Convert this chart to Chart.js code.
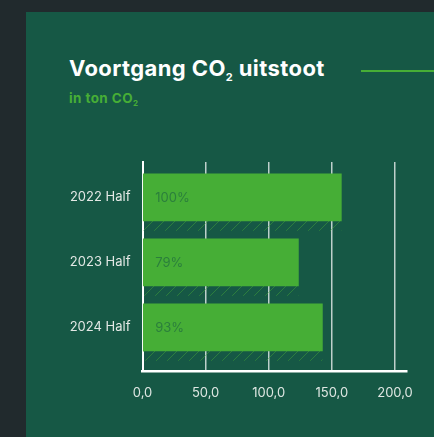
<!DOCTYPE html>
<html>
<head>
<meta charset="utf-8">
<script src="https://cdn.jsdelivr.net/npm/chart.js@4/dist/chart.umd.min.js"></script>
<style>
  html, body { margin: 0; padding: 0; background: #212a2d; width: 434px; height: 437px; overflow: hidden; }
  .card { position: absolute; left: 26px; top: 12px; width: 420px; height: 440px; background: #165845; }
  .title { position: absolute; left: 69px; top: 55px; color: #fff; font-family: Inter, "Open Sans", sans-serif; font-weight: 700; font-size: 22px; letter-spacing: 0.4px; margin: 0; }
  .title sub { font-size: 11px; vertical-align: -5px; }
  .sub { position: absolute; left: 69px; top: 90px; color: #47ae36; font-family: Inter, "Open Sans", sans-serif; font-weight: 700; font-size: 13.5px; letter-spacing: 0.4px; }
  .sub sub { font-size: 8px; vertical-align: -3px; }
  .line { position: absolute; left: 361px; top: 70px; width: 80px; height: 2px; background: #47ae36; }
  #chart { position: absolute; left: 0; top: 0; }
</style>
</head>
<body>
<div class="card"></div>
<div class="title">Voortgang CO<sub>2</sub> uitstoot</div>
<div class="sub">in ton CO<sub>2</sub></div>
<div class="line"></div>
<canvas id="chart" width="434" height="437"></canvas>
<script>
const categories = ['2022 Half', '2023 Half', '2024 Half'];
const emissions = [157.5, 123.5, 142.5];
const percentLabels = ['100%', '79%', '93%'];
const xTicks = [0, 50, 100, 150, 200];

// hatch pattern for the strip under each bar
function makeHatch() {
  const c = document.createElement('canvas');
  c.width = 11; c.height = 11;
  const g = c.getContext('2d');
  g.strokeStyle = 'rgba(71,174,54,0.45)';
  g.lineWidth = 1;
  g.beginPath();
  g.moveTo(0, 11); g.lineTo(11, 0);
  g.stroke();
  return g.createPattern(c, 'repeat');
}
const hatch = makeHatch();

const hatchPlugin = {
  id: 'hatchStrip',
  beforeDatasetsDraw(chart) {
    const ctx = chart.ctx;
    chart.getDatasetMeta(0).data.forEach(bar => {
      const top = bar.y + bar.height / 2;
      ctx.save();
      ctx.fillStyle = hatch;
      ctx.fillRect(bar.base, top, bar.x - bar.base, 10);
      ctx.restore();
    });
  }
};

const labelPlugin = {
  id: 'pctLabels',
  afterDatasetsDraw(chart) {
    const ctx = chart.ctx;
    ctx.save();
    ctx.font = '13px Inter, "Open Sans", sans-serif';
    ctx.fillStyle = '#2b7f3c';
    ctx.textAlign = 'left';
    ctx.textBaseline = 'middle';
    chart.getDatasetMeta(0).data.forEach((bar, i) => {
      ctx.fillText(percentLabels[i], bar.base + 12, bar.y + 1);
    });
    ctx.restore();
  }
};

new Chart(document.getElementById('chart').getContext('2d'), {
  type: 'bar',
  data: {
    datasets: [{
      data: emissions.map((v, i) => ({ x: v, y: i })),
      backgroundColor: '#46ae36',
      borderWidth: 0,
      barThickness: 47
    }]
  },
  plugins: [hatchPlugin, labelPlugin],
  options: {
    indexAxis: 'y',
    responsive: false,
    animation: false,
    devicePixelRatio: 1,
    layout: { padding: { top: 162, right: 27, left: 0, bottom: 0 } },
    plugins: { legend: { display: false }, tooltip: { enabled: false } },
    scales: {
      x: {
        type: 'linear',
        min: 0,
        max: 209.5,
        afterBuildTicks: s => { s.ticks = xTicks.map(v => ({ value: v })); },
        afterFit: s => { s.height = 66; },
        grid: { color: 'rgba(255,255,255,0.72)', lineWidth: 1.5, drawTicks: false },
        border: { display: true, color: '#ffffff', width: 2.5 },
        ticks: {
          padding: 14,
          color: '#dfe7e3',
          font: { family: 'Inter, "Open Sans", sans-serif', size: 13 },
          callback: v => v.toFixed(1).replace('.', ',')
        }
      },
      y: {
        type: 'linear',
        reverse: true,
        offset: false,
        min: -0.543,
        max: 2.672,
        afterBuildTicks: s => { s.ticks = categories.map((c, i) => ({ value: i })); },
        afterFit: s => { s.width = 142.5; },
        grid: { display: false, drawTicks: false, offset: false },
        border: { display: true, color: '#ffffff', width: 2 },
        ticks: {
          padding: 12,
          color: '#e3e8e5',
          font: { family: 'Inter, "Open Sans", sans-serif', size: 13 },
          callback: v => categories[v]
        }
      }
    }
  }
});
</script>
</body>
</html>
